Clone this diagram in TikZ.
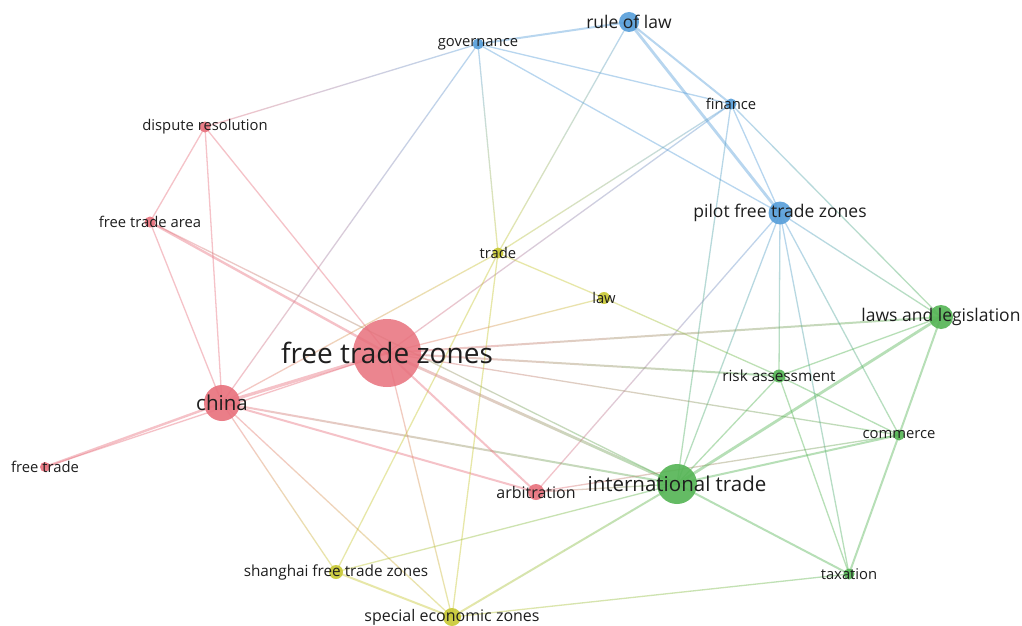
\documentclass[tikz,border=0pt]{standalone}
\usepackage{fontspec}
\setmainfont{Open Sans}
\usetikzlibrary{calc}
\definecolor{cR}{RGB}{232,112,124}
\definecolor{cG}{RGB}{84,180,84}
\definecolor{cB}{RGB}{86,158,218}
\definecolor{cY}{RGB}{200,200,50}
\definecolor{txt}{RGB}{30,30,30}
\newcommand{\gedge}[5]{%
  \foreach \i in {0,...,9}{%
    \pgfmathsetmacro{\ta}{\i/10}%
    \pgfmathsetmacro{\tb}{(\i+1)/10}%
    \pgfmathtruncatemacro{\pc}{95-\i*10}%
    \draw[edgeline, line width=#5, draw={#3!\pc!#4}] ($(#1)!\ta!(#2)$) -- ($(#1)!\tb!(#2)$);
  }}
\begin{document}
\begin{tikzpicture}[x=1pt,y=-1pt,
  edgeline/.style={draw opacity=0.42},
  dot/.style={circle, inner sep=0pt, fill opacity=0.9, draw=none},
  lab/.style={text=txt, inner sep=0pt, anchor=center},
  fa/.style={font=\fontsize{28}{28}\selectfont},
  fb/.style={font=\fontsize{20.5}{20.5}\selectfont},
  fc/.style={font=\fontsize{17.5}{17.5}\selectfont},
  fe/.style={font=\fontsize{16}{16}\selectfont},
  ff/.style={font=\fontsize{15.3}{15.3}\selectfont},
  fd/.style={font=\fontsize{14.8}{14.8}\selectfont}]
\fill[white] (0,0) rectangle (1022,626);
\useasboundingbox (0,0) rectangle (1022,626);
% positions
\coordinate (rl) at (629,22);
\coordinate (gov) at (478,44);
\coordinate (fin) at (731,104);
\coordinate (dr) at (205,127);
\coordinate (fta) at (150,222);
\coordinate (tr) at (498,253);
\coordinate (law) at (604,298);
\coordinate (pftz) at (780,213);
\coordinate (ll) at (941,317);
\coordinate (ftz) at (387,353);
\coordinate (ch) at (222,403);
\coordinate (ra) at (779,376);
\coordinate (com) at (899,435);
\coordinate (ft) at (45,467);
\coordinate (it) at (677,484);
\coordinate (arb) at (536,492);
\coordinate (sh) at (336,572);
\coordinate (tax) at (849,574);
\coordinate (sez) at (452,617);
% edges
\gedge{rl}{gov}{cB}{cB}{2pt}
\gedge{rl}{fin}{cB}{cB}{2pt}
\gedge{rl}{pftz}{cB}{cB}{2.8pt}
\gedge{rl}{tr}{cB}{cY}{1.3pt}
\gedge{gov}{dr}{cB}{cR}{1.3pt}
\gedge{gov}{ch}{cB}{cR}{1.3pt}
\gedge{gov}{tr}{cB}{cY}{1.3pt}
\gedge{gov}{fin}{cB}{cB}{1.3pt}
\gedge{gov}{pftz}{cB}{cB}{1.3pt}
\gedge{fin}{pftz}{cB}{cB}{1.3pt}
\gedge{fin}{ll}{cB}{cG}{1.3pt}
\gedge{fin}{it}{cB}{cG}{1.3pt}
\gedge{fin}{tr}{cB}{cY}{1.3pt}
\gedge{fin}{ftz}{cB}{cR}{1.3pt}
\gedge{pftz}{arb}{cB}{cR}{1.3pt}
\gedge{pftz}{it}{cB}{cG}{1.3pt}
\gedge{pftz}{ra}{cB}{cG}{1.3pt}
\gedge{pftz}{tax}{cB}{cG}{1.3pt}
\gedge{pftz}{com}{cB}{cG}{1.3pt}
\gedge{pftz}{ll}{cB}{cG}{1.3pt}
\gedge{dr}{fta}{cR}{cR}{1.3pt}
\gedge{dr}{ch}{cR}{cR}{1.3pt}
\gedge{dr}{ftz}{cR}{cR}{1.3pt}
\gedge{fta}{ch}{cR}{cR}{1.3pt}
\gedge{fta}{ftz}{cR}{cR}{2.4pt}
\gedge{fta}{it}{cR}{cG}{1.3pt}
\gedge{ft}{ch}{cR}{cR}{2.4pt}
\gedge{ft}{ftz}{cR}{cR}{1.3pt}
\gedge{ch}{ftz}{cR}{cR}{3.2pt}
\gedge{ch}{tr}{cR}{cY}{1.3pt}
\gedge{ch}{it}{cR}{cG}{2pt}
\gedge{ch}{arb}{cR}{cR}{2pt}
\gedge{ch}{sh}{cR}{cY}{1.3pt}
\gedge{ch}{sez}{cR}{cY}{1.3pt}
\gedge{tr}{law}{cY}{cY}{1.3pt}
\gedge{tr}{sh}{cY}{cY}{1.3pt}
\gedge{tr}{sez}{cY}{cY}{1.3pt}
\gedge{ftz}{law}{cR}{cY}{1.3pt}
\gedge{law}{ra}{cY}{cG}{1.3pt}
\gedge{ftz}{ll}{cR}{cG}{2pt}
\gedge{ftz}{ra}{cR}{cG}{2pt}
\gedge{ftz}{com}{cR}{cG}{1.3pt}
\gedge{ftz}{it}{cR}{cG}{2.8pt}
\gedge{ftz}{arb}{cR}{cR}{2pt}
\gedge{ftz}{sez}{cR}{cY}{1.3pt}
\gedge{arb}{it}{cR}{cG}{1.3pt}
\gedge{arb}{com}{cR}{cG}{1.3pt}
\gedge{sh}{sez}{cY}{cY}{2pt}
\gedge{sh}{it}{cY}{cG}{1.3pt}
\gedge{sez}{it}{cY}{cG}{2pt}
\gedge{sez}{tax}{cY}{cG}{1.3pt}
\gedge{it}{ra}{cG}{cG}{1.3pt}
\gedge{it}{ll}{cG}{cG}{2.8pt}
\gedge{it}{com}{cG}{cG}{2pt}
\gedge{it}{tax}{cG}{cG}{2pt}
\gedge{ra}{ll}{cG}{cG}{1.3pt}
\gedge{ra}{com}{cG}{cG}{1.3pt}
\gedge{ra}{tax}{cG}{cG}{1.3pt}
\gedge{ll}{com}{cG}{cG}{2pt}
\gedge{com}{tax}{cG}{cG}{2pt}
% circles
\node[dot,fill=cB,minimum size=20pt] (rlc) at (rl) {};
\node[dot,fill=cB,minimum size=11pt] (govc) at (gov) {};
\node[dot,fill=cB,minimum size=11pt] (finc) at (fin) {};
\node[dot,fill=cR,minimum size=11pt] (drc) at (dr) {};
\node[dot,fill=cR,minimum size=11pt] (ftac) at (fta) {};
\node[dot,fill=cY,minimum size=11pt] (trc) at (tr) {};
\node[dot,fill=cY,minimum size=12pt] (lawc) at (law) {};
\node[dot,fill=cB,minimum size=23pt] (pftzc) at (pftz) {};
\node[dot,fill=cG,minimum size=24pt] (llc) at (ll) {};
\node[dot,fill=cR,fill opacity=0.85,minimum size=68pt] (ftzc) at (ftz) {};
\node[dot,fill=cR,minimum size=36pt] (chc) at (ch) {};
\node[dot,fill=cG,minimum size=13pt] (rac) at (ra) {};
\node[dot,fill=cG,minimum size=11pt] (comc) at (com) {};
\node[dot,fill=cR,minimum size=10pt] (ftc) at (ft) {};
\node[dot,fill=cG,minimum size=40pt] (itc) at (it) {};
\node[dot,fill=cR,minimum size=16pt] (arbc) at (arb) {};
\node[dot,fill=cY,minimum size=14pt] (shc) at (sh) {};
\node[dot,fill=cG,minimum size=11pt] (taxc) at (tax) {};
\node[dot,fill=cY,minimum size=18pt] (sezc) at (sez) {};
% labels
\node[lab,fc] (rll) at (rl) {rule of law};
\node[lab,fd] (govl) at (gov) {governance};
\node[lab,fd] (finl) at (fin) {finance};
\node[lab,fd] (drl) at (dr) {dispute resolution};
\node[lab,fd] (ftal) at (fta) {free trade area};
\node[lab,fd] (trl) at (tr) {trade};
\node[lab,fd] (lawl) at (law) {law};
\node[lab,fc] (pftzl) at (pftz) {pilot free trade zones};
\node[lab,fc] (lll) at (ll) {laws and legislation};
\node[lab,fa] (ftzl) at (ftz) {free trade zones};
\node[lab,fb] (chl) at (ch) {china};
\node[lab,ff] (ral) at (ra) {risk assessment};
\node[lab,fd] (coml) at (com) {commerce};
\node[lab,fd] (ftl) at (ft) {free trade};
\node[lab,fb] (itl) at (it) {international trade};
\node[lab,fe] (arbl) at (arb) {arbitration};
\node[lab,ff] (shl) at (sh) {shanghai free trade zones};
\node[lab,fd] (taxl) at (tax) {taxation};
\node[lab,fe] (sezl) at (sez) {special economic zones};
\end{tikzpicture}
\end{document}
